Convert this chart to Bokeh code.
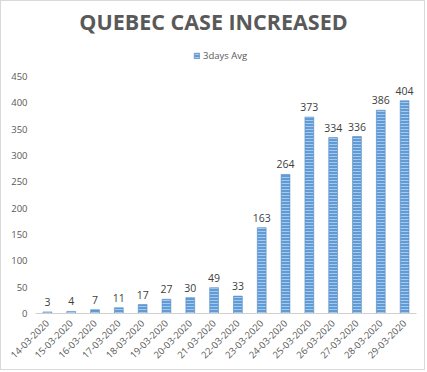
from bokeh.plotting import figure
from bokeh.models import ColumnDataSource, LabelSet, Legend, LegendItem, Range1d, FixedTicker, Label
from bokeh.core.properties import value
from bokeh.embed import file_html
from bokeh.resources import INLINE
import math

dates = ["14-03-2020", "15-03-2020", "16-03-2020", "17-03-2020", "18-03-2020",
         "19-03-2020", "20-03-2020", "21-03-2020", "22-03-2020", "23-03-2020",
         "24-03-2020", "25-03-2020", "26-03-2020", "27-03-2020", "28-03-2020",
         "29-03-2020"]
avg3 = [3, 4, 7, 11, 17, 27, 30, 49, 33, 163, 264, 373, 334, 336, 386, 404]
y_ticks = [0, 50, 100, 150, 200, 250, 300, 350, 400, 450]
title_text = "QUEBEC CASE INCREASED"
series_name = "3days Avg"

src = ColumnDataSource(dict(x=dates, top=avg3, lab=[str(v) for v in avg3]))

FONT = "Open Sans"
W, H = 425, 370
BOTTOM = 58
frame_h = H - BOTTOM
y_top = 450 * frame_h / 237.0
upp = y_top / frame_h  # data units per pixel

p = figure(x_range=dates, y_range=Range1d(0, y_top), width=W, height=H,
           output_backend="svg", toolbar_location=None,
           min_border_left=34, min_border_right=10, min_border_top=0, min_border_bottom=BOTTOM,
           outline_line_color=None, border_fill_color="white",
           styles={"border": "1px solid #d9d9d9"})

r = p.vbar(x="x", top="top", width=0.37, source=src,
           fill_color="#5f9bd6", line_color="#5a8dc4", line_width=0.6,
           hatch_pattern="horizontal_line", hatch_color="#a8c9ea",
           hatch_scale=3, hatch_weight=1)

labels = LabelSet(x="x", y="top", text="lab", source=src, y_offset=6,
                  text_align="center", text_baseline="bottom",
                  text_font=value(FONT), text_font_size="10.5px", text_color="#404040")
p.add_layout(labels)

title = Label(x=7.475, y=y_top - 20.4 * upp, text=title_text,
              text_align="center", text_baseline="middle",
              text_font=FONT, text_font_size="21.5px", text_font_style="bold",
              text_color="#595959")
p.add_layout(title)

legend = Legend(items=[LegendItem(label=series_name, renderers=[r])],
                orientation="horizontal", location=(158, 251),
                glyph_width=7, glyph_height=7, label_text_font=FONT,
                label_text_font_size="9.5px", label_text_color="#595959",
                border_line_color=None, background_fill_alpha=0,
                padding=2, margin=0, label_standoff=3)
p.add_layout(legend)

p.xgrid.grid_line_color = None
p.ygrid.grid_line_color = None

p.yaxis.ticker = FixedTicker(ticks=y_ticks)
p.yaxis.axis_line_color = None
p.yaxis.major_tick_line_color = None
p.yaxis.minor_tick_line_color = None
p.yaxis.major_tick_out = 0
p.yaxis.major_tick_in = 0
p.yaxis.major_label_text_font = FONT
p.yaxis.major_label_text_font_size = "9.5px"
p.yaxis.major_label_text_color = "#595959"
p.yaxis.major_label_standoff = 8

p.xaxis.axis_line_color = "#d0d0d0"
p.xaxis.major_tick_line_color = None
p.xaxis.minor_tick_line_color = None
p.xaxis.major_tick_out = 0
p.xaxis.major_tick_in = 0
p.xaxis.major_label_orientation = math.pi / 4
p.xaxis.major_label_text_font = FONT
p.xaxis.major_label_text_font_size = "9.5px"
p.xaxis.major_label_text_color = "#595959"
p.xaxis.major_label_standoff = 8

open("out.html", "w").write(file_html(p, INLINE))
